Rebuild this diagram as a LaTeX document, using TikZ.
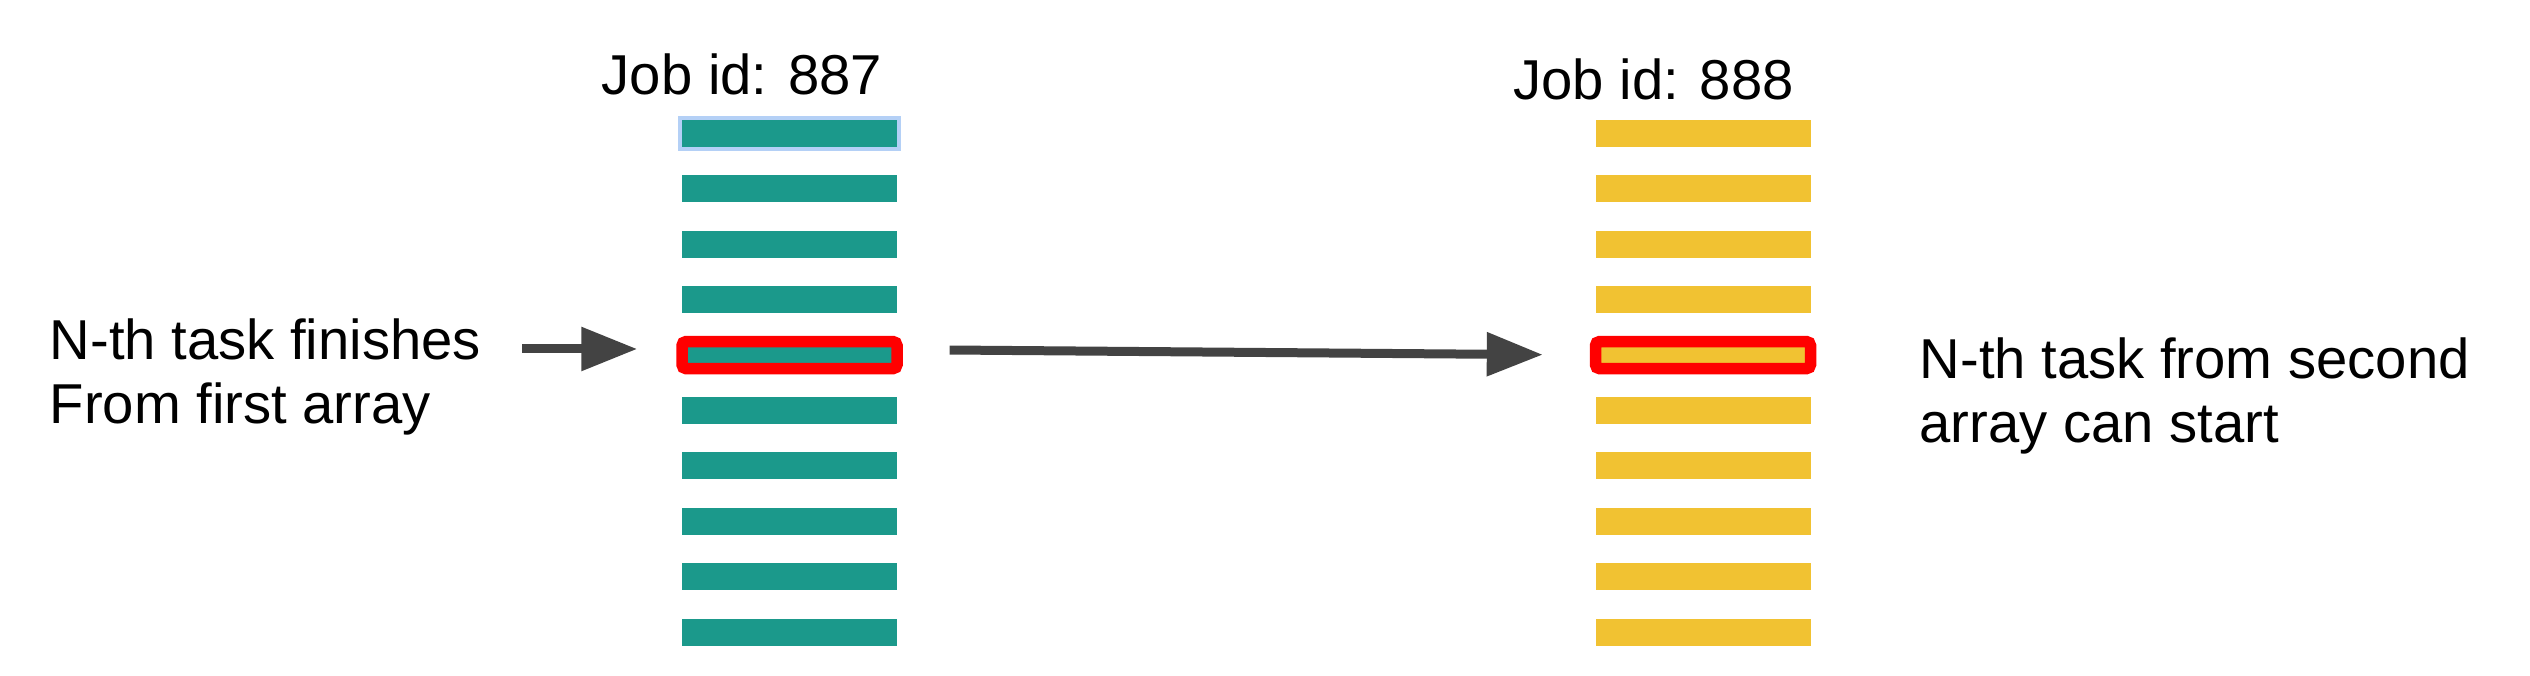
\documentclass[tikz,border=0pt]{standalone}
\usepackage{fontspec}
\setmainfont{Liberation Sans}
\usetikzlibrary{arrows.meta}
\definecolor{teal}{RGB}{27,153,139}
\definecolor{gold}{RGB}{241,194,50}
\definecolor{arrowgray}{RGB}{67,67,67}
\definecolor{selblue}{RGB}{180,208,246}
\begin{document}
\begin{tikzpicture}
  \tikzset{
    bar/.style={rectangle,inner sep=0,minimum width=2.15cm,minimum height=0.27cm},
    hit/.style={draw=red,line width=0.115cm,rounded corners=0.04cm},
    lbl/.style={inner sep=0,font=\fontsize{16pt}{18.3pt}\selectfont,align=left},
    arr/.style={arrowgray,line width=0.09cm,-{Triangle[length=0.56cm,width=0.42cm]}}
  }
  \useasboundingbox (0,0) rectangle (25.30,-6.76);

  \node[lbl,anchor=base] (job887) at (7.42,-0.95) {Job id: 887};
  \node[lbl,anchor=base] (job888) at (16.535,-1.00) {Job id: 888};

  \foreach \i in {2,...,10} {
    \node[bar,fill=teal] (a\i) at (7.895,{-1.335-0.554*(\i-1)}) {};
  }
  \node[bar,fill=teal,draw=selblue,line width=0.04cm,minimum width=2.19cm,minimum height=0.31cm] (a1) at (7.895,-1.335) {};
  \foreach \i in {1,...,10} {
    \node[bar,fill=gold] (b\i) at (17.03,{-1.335-0.554*(\i-1)}) {};
  }
  \node[bar,fill=teal,hit] at (a5) {};
  \node[bar,fill=gold,hit] at (b5) {};

  \node[lbl,anchor=base west] (finish) at (0.49,-4.24) {N-th task finishes\\From first array};
  \node[lbl,anchor=base west] (start) at (19.19,-4.43) {N-th task from second\\array can start};

  \coordinate (from) at (5.22,-3.49);
  \draw[arr,shorten >=0.44cm] (from) -- (from -| a5.west);
  \draw[arr,shorten <=0.52cm,shorten >=0.52cm] ([yshift=0.055cm]a5.east) -- (b5.west);

\end{tikzpicture}
\end{document}
